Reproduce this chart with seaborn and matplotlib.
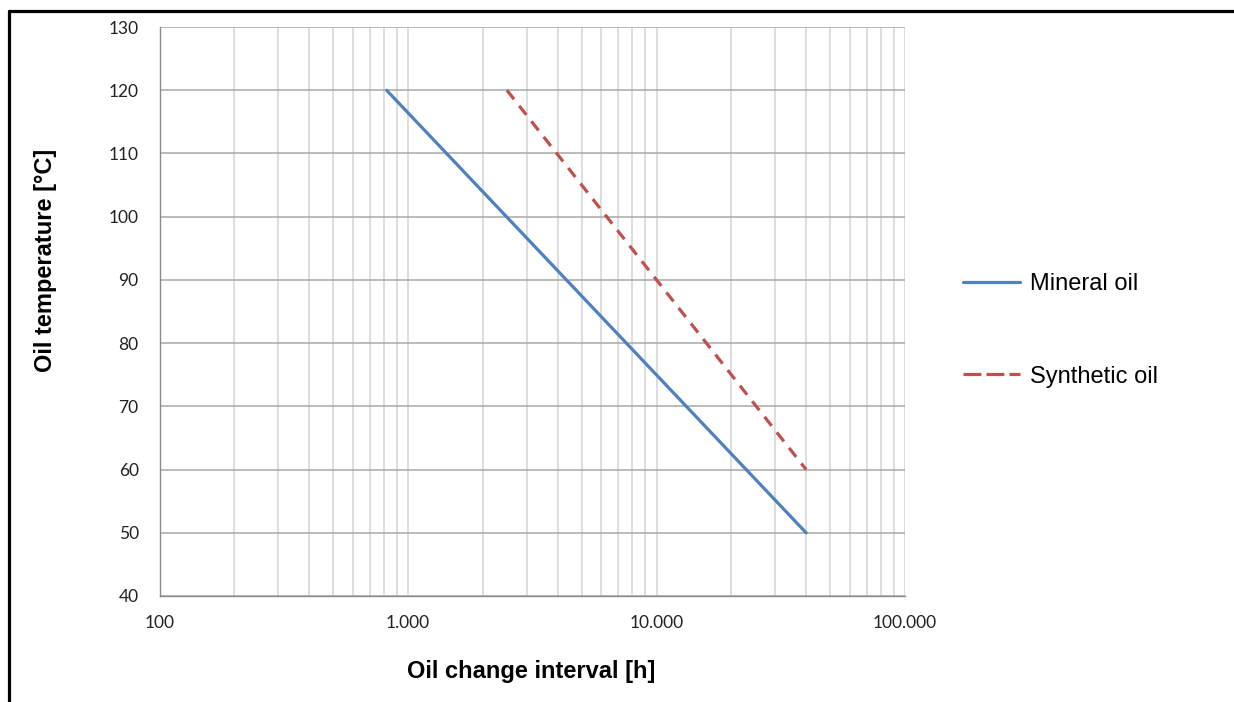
import pandas as pd
import numpy as np
import matplotlib
matplotlib.use('Agg')
import matplotlib.pyplot as plt
import matplotlib.ticker as mticker
from matplotlib.lines import Line2D
import seaborn as sns

# Dados
series_names = ['Mineral oil', 'Synthetic oil']
mineral_interval = [820, 40000]
mineral_temp = [120, 50]
synthetic_interval = [2500, 40000]
synthetic_temp = [120, 60]

x_ticks = [100, 1000, 10000, 100000]
x_tick_labels = ['100', '1.000', '10.000', '100.000']
y_ticks = [40, 50, 60, 70, 80, 90, 100, 110, 120, 130]

df = pd.DataFrame({
    'Interval': mineral_interval + synthetic_interval,
    'Temp': mineral_temp + synthetic_temp,
    'Oil': [series_names[0]] * len(mineral_interval) + [series_names[1]] * len(synthetic_interval),
})

sns.set_theme(style='white')
plt.rcParams['font.family'] = ['Liberation Sans', 'DejaVu Sans']
plt.rcParams['text.color'] = 'black'
plt.rcParams['axes.labelcolor'] = 'black'

fig = plt.figure(figsize=(12.34, 7.02), dpi=100)
ax = fig.add_axes([0.1293, 0.151, 0.7334 - 0.1293, 0.9615 - 0.151])

palette = {'Mineral oil': '#4F81BD', 'Synthetic oil': '#C0504D'}
dashes = {'Mineral oil': '', 'Synthetic oil': (3.6, 2.6)}
sns.lineplot(data=df, x='Interval', y='Temp', hue='Oil', style='Oil',
             palette=palette, dashes=dashes, linewidth=2.3, ax=ax, legend=False)

ax.set_xscale('log')
ax.set_xlim(100, 100000)
ax.set_ylim(40, 130)
ax.set_xticks(x_ticks)
ax.set_xticklabels(x_tick_labels)
ax.xaxis.set_minor_locator(mticker.LogLocator(base=10, subs=np.arange(2, 10)))
ax.xaxis.set_minor_formatter(mticker.NullFormatter())
ax.set_yticks(y_ticks)

# grade
ax.grid(False)
ax.xaxis.grid(True, which='both', color='#D4D4D4', linewidth=1.1)
ax.yaxis.grid(True, which='major', color='#A8A8A8', linewidth=1.1)
ax.set_axisbelow(True)

for side in ['top', 'right']:
    ax.spines[side].set_visible(False)
for side in ['left', 'bottom']:
    ax.spines[side].set_color('#8C8C8C')
    ax.spines[side].set_linewidth(1.0)

ax.tick_params(axis='both', which='major', direction='out', length=5, width=1,
               color='#8C8C8C', labelsize=12.5, labelcolor='#222222')
ax.tick_params(axis='x', which='minor', length=0)
ax.tick_params(axis='x', pad=9)
ax.tick_params(axis='y', pad=10)
for lab in ax.get_xticklabels() + ax.get_yticklabels():
    lab.set_family(['Lato', 'DejaVu Sans'])

ax.set_xlabel('Oil change interval [h]', fontsize=17, fontweight='bold', color='black')
ax.set_ylabel('Oil temperature [°C]', fontsize=17, fontweight='bold', color='black')
ax.xaxis.set_label_coords(0.498, -0.112)
ax.yaxis.set_label_coords(-0.137, 0.59)

handles = [
    Line2D([], [], color=palette['Mineral oil'], linewidth=2.3),
    Line2D([], [], color=palette['Synthetic oil'], linewidth=2.3, linestyle=(0, (5.6, 1.6))),
]
leg = ax.legend(handles, series_names, loc='center left', bbox_to_anchor=(1.0778, 0.4666),
                frameon=False, fontsize=17, handlelength=2.4, handletextpad=0.42,
                labelspacing=2.98, borderpad=0, borderaxespad=0)
for t in leg.get_texts():
    t.set_color('black')

# moldura da imagem (esquerda e topo)
fig.add_artist(Line2D([9 / 1234, 9 / 1234], [0, 1 - 11 / 702], color='black', linewidth=2.3,
                      transform=fig.transFigure))
fig.add_artist(Line2D([9 / 1234, 1], [1 - 11 / 702, 1 - 11 / 702], color='black', linewidth=2.3,
                      transform=fig.transFigure))

fig.savefig('out.png', dpi=100)
plt.close(fig)
